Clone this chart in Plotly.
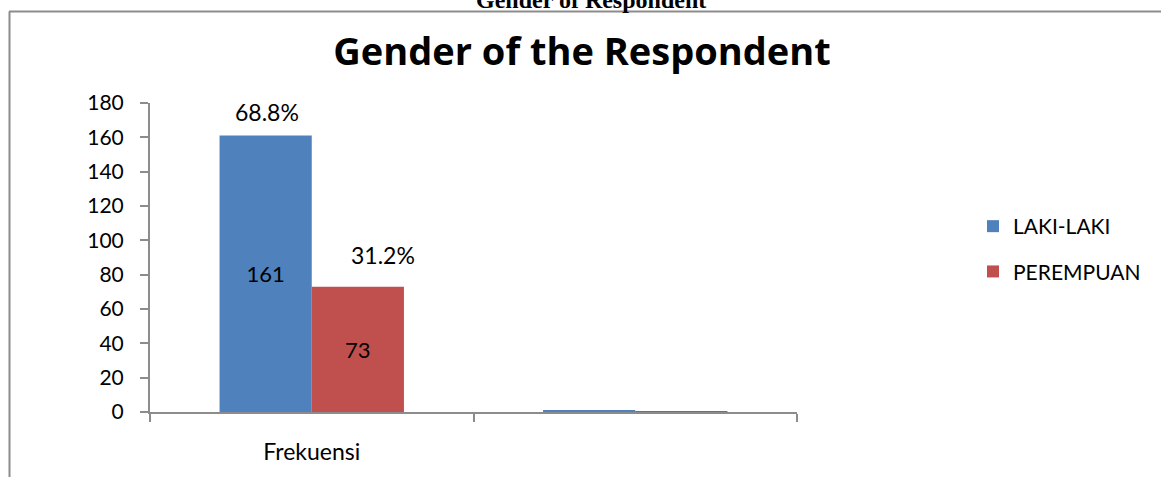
import plotly.graph_objects as go

categories = ["Frekuensi", " "]
laki_values = [161, 0.688]
perempuan_values = [73, 0.312]
laki_text = ["161", ""]
perempuan_text = ["73", ""]
pct_labels = ["68.8%", "31.2%"]
series_names = ["LAKI-LAKI", "PEREMPUAN"]
y_ticks = [0, 20, 40, 60, 80, 100, 120, 140, 160, 180]

W, H = 1161, 477
L, R, T, B = 150, 797, 103, 412
FONT = "Lato"

def px_x(p):
    return (p - L) / (R - L)

def px_y(p):
    return (B - p) / (B - T)

fig = go.Figure()
fig.add_trace(go.Bar(
    x=categories, y=laki_values, name=series_names[0],
    marker=dict(color="#4F81BD", line=dict(width=0)),
    text=laki_text, textposition="inside", insidetextanchor="middle",
    textfont=dict(family=FONT, size=22, color="black"),
    legendgroup="a",
))
fig.add_trace(go.Bar(
    x=categories, y=perempuan_values, name=series_names[1],
    marker=dict(color="#C0504D", line=dict(width=0)),
    text=perempuan_text, textposition="inside", insidetextanchor="middle",
    textfont=dict(family=FONT, size=22, color="black"),
    legendgroup="b",
))

fig.add_annotation(x=categories[0], y=laki_values[0], xref="x", yref="y",
                   text=pct_labels[0], showarrow=False, xshift=-45, yshift=24,
                   yanchor="middle", font=dict(family=FONT, size=23, color="black"))
fig.add_annotation(x=categories[0], y=perempuan_values[0], xref="x", yref="y",
                   text=pct_labels[1], showarrow=False, xshift=71, yshift=32,
                   yanchor="middle", font=dict(family=FONT, size=23, color="black"))

# caption above the chart (cut off at the top)
fig.add_annotation(x=px_x(591), y=px_y(0), xref="paper", yref="paper",
                   text="<b>Gender of Respondent</b>", showarrow=False,
                   xanchor="center", yanchor="middle",
                   font=dict(family="Liberation Serif", size=24, color="black"))

# chart frame (top and left borders)
frame = dict(color="#8C8C8C", width=2)
fig.add_shape(type="line", xref="paper", yref="paper",
              x0=px_x(9), x1=px_x(1170), y0=px_y(11.5), y1=px_y(11.5), line=frame)
fig.add_shape(type="line", xref="paper", yref="paper",
              x0=px_x(9.5), x1=px_x(9.5), y0=px_y(11.5), y1=px_y(490), line=frame)

fig.update_layout(
    width=W, height=H,
    margin=dict(l=L, r=W - R, t=T, b=H - B, pad=0),
    paper_bgcolor="white", plot_bgcolor="white",
    barmode="group", bargap=0.43, bargroupgap=0,
    title=dict(text="<b>Gender of the Respondent</b>", x=582 / W,
               xanchor="center", y=1 - 52 / H, yanchor="middle",
               font=dict(family="Open Sans", size=38, color="black")),
    font=dict(family=FONT, size=19, color="black"),
    showlegend=True,
    legend=dict(x=px_x(973), y=px_y(206), xanchor="left", yanchor="top",
                font=dict(family=FONT, size=21, color="black"),
                tracegroupgap=15, itemwidth=30, bgcolor="rgba(0,0,0,0)"),
    xaxis=dict(showline=True, linecolor="#8C8C8C", linewidth=2,
               ticks="outside", tickson="boundaries", ticklen=8, tickcolor="#8C8C8C",
               tickwidth=2, showgrid=False, zeroline=False, ticklabelstandoff=18,
               tickfont=dict(family=FONT, size=23, color="black")),
    yaxis=dict(range=[0, 180], tickvals=y_ticks, showline=True, linecolor="#8C8C8C",
               linewidth=2, ticks="outside", ticklen=8, tickcolor="#8C8C8C", tickwidth=2,
               showgrid=False, zeroline=False, ticklabelstandoff=12,
               tickfont=dict(family=FONT, size=21, color="black")),
)

fig.write_html("out.html", config={"displayModeBar": False},
               post_script="document.body.style.margin='0px';")
